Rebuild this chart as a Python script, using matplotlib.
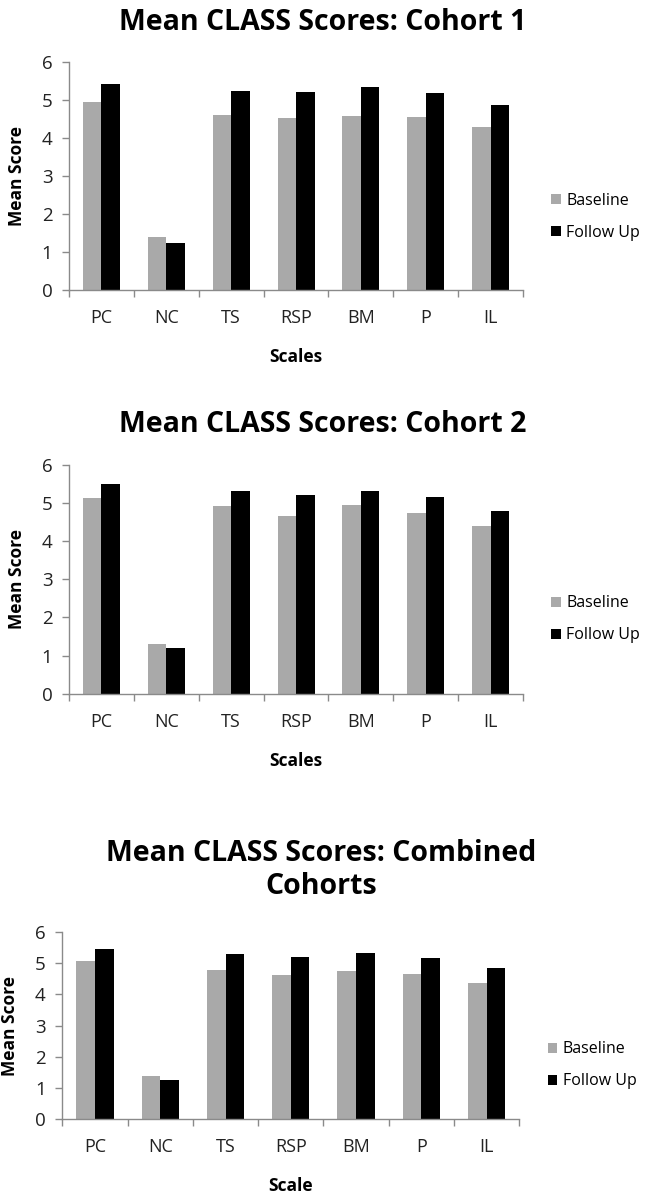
import numpy as np
import matplotlib.pyplot as plt

plt.rcParams['font.family'] = ['Open Sans', 'DejaVu Sans']

scales = ["PC", "NC", "TS", "RSP", "BM", "P", "IL"]
series_names = ["Baseline", "Follow Up"]

cohort1_baseline = [4.96, 1.39, 4.60, 4.52, 4.59, 4.55, 4.30]
cohort1_followup = [5.43, 1.25, 5.24, 5.20, 5.35, 5.18, 4.87]

cohort2_baseline = [5.13, 1.31, 4.93, 4.67, 4.95, 4.73, 4.41]
cohort2_followup = [5.49, 1.21, 5.31, 5.22, 5.32, 5.17, 4.79]

combined_baseline = [5.06, 1.37, 4.79, 4.62, 4.77, 4.65, 4.36]
combined_followup = [5.47, 1.24, 5.29, 5.20, 5.33, 5.18, 4.86]

GRAY = "#a9a9a9"
AXIS = "#8a8a8a"

fig = plt.figure(figsize=(6.45, 11.97), dpi=100)


def draw_panel(rect, base, follow, xlabel, legend_y):
    ax = fig.add_axes(rect)
    x = np.arange(len(scales))
    w = 0.285
    b1 = ax.bar(x - w / 2, base, w, color=GRAY, label=series_names[0])
    b2 = ax.bar(x + w / 2, follow, w, color="black", label=series_names[1])

    ax.set_xlim(-0.5, len(scales) - 0.5)
    ax.set_ylim(0, 6)
    ax.set_yticks(range(0, 7))

    # category labels centred, tick marks on the category boundaries
    ax.set_xticks(x)
    ax.set_xticklabels(scales)
    ax.set_xticks(np.arange(-0.5, len(scales)), minor=True)
    ax.tick_params(axis="x", which="major", length=0, pad=14, labelsize=13,
                   labelcolor="#222222")
    ax.tick_params(axis="x", which="minor", length=5, direction="out",
                   color=AXIS, width=1)
    ax.tick_params(axis="y", length=5, direction="out", color=AXIS, width=1,
                   pad=7, labelsize=13.5, labelcolor="#222222")

    for side in ["top", "right"]:
        ax.spines[side].set_visible(False)
    for side in ["left", "bottom"]:
        ax.spines[side].set_color(AXIS)
        ax.spines[side].set_linewidth(1)

    ax.set_ylabel("Mean Score", fontsize=12.5, fontweight="bold")
    ax.yaxis.set_label_coords(-0.115, 0.5)
    ax.yaxis.label.set_va("center")

    ax.set_xlabel(xlabel, fontsize=12.5, fontweight="bold")
    ax.xaxis.label.set_va("center")
    ax.xaxis.set_label_coords(0.5, -67 / (rect[3] * 1197))

    ax.legend(handles=[b1, b2], loc="center left",
              bbox_to_anchor=(1.062, legend_y), frameon=False,
              handlelength=0.6, handleheight=0.6, handletextpad=0.35,
              labelspacing=1.0, borderpad=0, borderaxespad=0,
              fontsize=11.5)
    return ax


draw_panel([0.107, 0.7577, 0.704, 0.1905], cohort1_baseline, cohort1_followup,
           "Scales", 0.322)
draw_panel([0.107, 0.4205, 0.704, 0.1911], cohort2_baseline, cohort2_followup,
           "Scales", 0.325)
draw_panel([0.0966, 0.0652, 0.7085, 0.156], combined_baseline, combined_followup,
           "Scale", 0.287)

title_kw = dict(ha="center", va="center", fontsize=20.5, fontweight="bold")
fig.text(0.5, 1 - 22 / 1197, "Mean CLASS Scores: Cohort 1", **title_kw)
fig.text(0.5, 1 - 425 / 1197, "Mean CLASS Scores: Cohort 2", **title_kw)
fig.text(0.498, 1 - 870 / 1197, "Mean CLASS Scores: Combined\nCohorts",
         linespacing=1.2, **title_kw)

fig.savefig("out.png", dpi=100)
